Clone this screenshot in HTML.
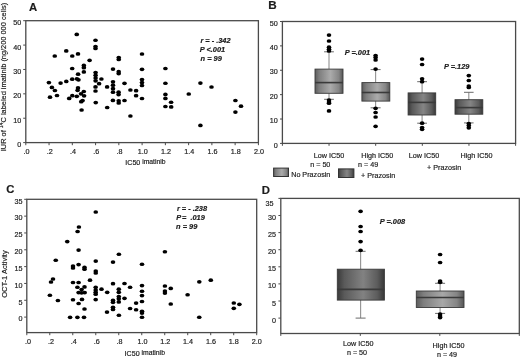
<!DOCTYPE html>
<html><head><meta charset="utf-8"><style>
html,body{margin:0;padding:0;background:#fff;width:520px;height:357px;overflow:hidden}
svg{display:block;filter:grayscale(1)}
text{font-family:"Liberation Sans",sans-serif;fill:#1c1c1c;stroke:#1c1c1c;stroke-width:0.18px}
</style></head><body>
<svg width="520" height="357" viewBox="0 0 520 357">
<defs>
<linearGradient id="gl" x1="0" y1="0" x2="1" y2="0">
<stop offset="0" stop-color="#5c5c5c"/><stop offset="0.15" stop-color="#7e7e7e"/><stop offset="0.55" stop-color="#ababab"/><stop offset="0.85" stop-color="#858585"/><stop offset="1" stop-color="#555"/>
</linearGradient>
<linearGradient id="gd" x1="0" y1="0" x2="1" y2="0">
<stop offset="0" stop-color="#3a3a3a"/><stop offset="0.15" stop-color="#595959"/><stop offset="0.55" stop-color="#858585"/><stop offset="0.85" stop-color="#5c5c5c"/><stop offset="1" stop-color="#383838"/>
</linearGradient>
<linearGradient id="gd2" x1="0" y1="0" x2="1" y2="0">
<stop offset="0" stop-color="#3a3a3a"/><stop offset="0.15" stop-color="#5a5a5a"/><stop offset="0.55" stop-color="#828282"/><stop offset="0.85" stop-color="#5c5c5c"/><stop offset="1" stop-color="#383838"/>
</linearGradient>
<linearGradient id="gl2" x1="0" y1="0" x2="1" y2="0">
<stop offset="0" stop-color="#5c5c5c"/><stop offset="0.15" stop-color="#7e7e7e"/><stop offset="0.55" stop-color="#a8a8a8"/><stop offset="0.85" stop-color="#858585"/><stop offset="1" stop-color="#555"/>
</linearGradient>
</defs>
<rect x="25.8" y="20.7" width="232.60" height="121.90" fill="none" stroke="#4a4a4a" stroke-width="1.3"/>
<line x1="23.2" y1="142.60" x2="25.8" y2="142.60" stroke="#4a4a4a" stroke-width="1"/>
<text x="21.2" y="147.10" font-size="7.2" text-anchor="end" >0</text>
<line x1="23.2" y1="118.22" x2="25.8" y2="118.22" stroke="#4a4a4a" stroke-width="1"/>
<text x="21.2" y="122.72" font-size="7.2" text-anchor="end" >10</text>
<line x1="23.2" y1="93.84" x2="25.8" y2="93.84" stroke="#4a4a4a" stroke-width="1"/>
<text x="21.2" y="98.34" font-size="7.2" text-anchor="end" >20</text>
<line x1="23.2" y1="69.46" x2="25.8" y2="69.46" stroke="#4a4a4a" stroke-width="1"/>
<text x="21.2" y="73.96" font-size="7.2" text-anchor="end" >30</text>
<line x1="23.2" y1="45.08" x2="25.8" y2="45.08" stroke="#4a4a4a" stroke-width="1"/>
<text x="21.2" y="49.58" font-size="7.2" text-anchor="end" >40</text>
<line x1="23.2" y1="20.70" x2="25.8" y2="20.70" stroke="#4a4a4a" stroke-width="1"/>
<text x="21.2" y="25.20" font-size="7.2" text-anchor="end" >50</text>
<line x1="25.80" y1="142.6" x2="25.80" y2="145.2" stroke="#4a4a4a" stroke-width="1"/>
<text x="26.50" y="153.6" font-size="7.2" text-anchor="middle" >.0</text>
<line x1="49.06" y1="142.6" x2="49.06" y2="145.2" stroke="#4a4a4a" stroke-width="1"/>
<text x="49.76" y="153.6" font-size="7.2" text-anchor="middle" >.2</text>
<line x1="72.32" y1="142.6" x2="72.32" y2="145.2" stroke="#4a4a4a" stroke-width="1"/>
<text x="73.02" y="153.6" font-size="7.2" text-anchor="middle" >.4</text>
<line x1="95.58" y1="142.6" x2="95.58" y2="145.2" stroke="#4a4a4a" stroke-width="1"/>
<text x="96.28" y="153.6" font-size="7.2" text-anchor="middle" >.6</text>
<line x1="118.84" y1="142.6" x2="118.84" y2="145.2" stroke="#4a4a4a" stroke-width="1"/>
<text x="119.54" y="153.6" font-size="7.2" text-anchor="middle" >.8</text>
<line x1="142.10" y1="142.6" x2="142.10" y2="145.2" stroke="#4a4a4a" stroke-width="1"/>
<text x="142.80" y="153.6" font-size="7.2" text-anchor="middle" >1.0</text>
<line x1="165.36" y1="142.6" x2="165.36" y2="145.2" stroke="#4a4a4a" stroke-width="1"/>
<text x="166.06" y="153.6" font-size="7.2" text-anchor="middle" >1.2</text>
<line x1="188.62" y1="142.6" x2="188.62" y2="145.2" stroke="#4a4a4a" stroke-width="1"/>
<text x="189.32" y="153.6" font-size="7.2" text-anchor="middle" >1.4</text>
<line x1="211.88" y1="142.6" x2="211.88" y2="145.2" stroke="#4a4a4a" stroke-width="1"/>
<text x="212.58" y="153.6" font-size="7.2" text-anchor="middle" >1.6</text>
<line x1="235.14" y1="142.6" x2="235.14" y2="145.2" stroke="#4a4a4a" stroke-width="1"/>
<text x="235.84" y="153.6" font-size="7.2" text-anchor="middle" >1.8</text>
<line x1="258.40" y1="142.6" x2="258.40" y2="145.2" stroke="#4a4a4a" stroke-width="1"/>
<text x="259.10" y="153.6" font-size="7.2" text-anchor="middle" >2.0</text>
<g fill="#000">
<ellipse cx="76.75" cy="34.4" rx="2.3" ry="1.85"/>
<ellipse cx="66.25" cy="50.9" rx="2.3" ry="1.85"/>
<ellipse cx="54.75" cy="56" rx="2.3" ry="1.85"/>
<ellipse cx="72.25" cy="56" rx="2.3" ry="1.85"/>
<ellipse cx="78" cy="53.9" rx="2.3" ry="1.85"/>
<ellipse cx="89.6" cy="60.3" rx="2.3" ry="1.85"/>
<ellipse cx="95.5" cy="40.25" rx="2.3" ry="1.85"/>
<ellipse cx="95.5" cy="46.5" rx="2.3" ry="1.85"/>
<ellipse cx="95.5" cy="48.5" rx="2.3" ry="1.85"/>
<ellipse cx="118.75" cy="57.5" rx="2.3" ry="1.85"/>
<ellipse cx="118.75" cy="59.5" rx="2.3" ry="1.85"/>
<ellipse cx="142" cy="54" rx="2.3" ry="1.85"/>
<ellipse cx="83.85" cy="65.4" rx="2.3" ry="1.85"/>
<ellipse cx="83.85" cy="67.7" rx="2.3" ry="1.85"/>
<ellipse cx="83.85" cy="71.9" rx="2.3" ry="1.85"/>
<ellipse cx="72.2" cy="68.5" rx="2.3" ry="1.85"/>
<ellipse cx="78.1" cy="74.2" rx="2.3" ry="1.85"/>
<ellipse cx="72.2" cy="79.2" rx="2.3" ry="1.85"/>
<ellipse cx="76.9" cy="78.8" rx="2.3" ry="1.85"/>
<ellipse cx="78.5" cy="79.8" rx="2.3" ry="1.85"/>
<ellipse cx="66.3" cy="81.4" rx="2.3" ry="1.85"/>
<ellipse cx="60.6" cy="83.1" rx="2.3" ry="1.85"/>
<ellipse cx="48.9" cy="82.6" rx="2.3" ry="1.85"/>
<ellipse cx="51.9" cy="87.4" rx="2.3" ry="1.85"/>
<ellipse cx="54.9" cy="90.5" rx="2.3" ry="1.85"/>
<ellipse cx="57" cy="95.5" rx="2.3" ry="1.85"/>
<ellipse cx="50" cy="97.2" rx="2.3" ry="1.85"/>
<ellipse cx="72.3" cy="95.7" rx="2.3" ry="1.85"/>
<ellipse cx="69.2" cy="98.4" rx="2.3" ry="1.85"/>
<ellipse cx="76.8" cy="96.3" rx="2.3" ry="1.85"/>
<ellipse cx="78" cy="87.9" rx="2.3" ry="1.85"/>
<ellipse cx="77.6" cy="90.3" rx="2.3" ry="1.85"/>
<ellipse cx="83.8" cy="91.5" rx="2.3" ry="1.85"/>
<ellipse cx="81" cy="93.8" rx="2.3" ry="1.85"/>
<ellipse cx="84.1" cy="95.8" rx="2.3" ry="1.85"/>
<ellipse cx="82.6" cy="100.6" rx="2.3" ry="1.85"/>
<ellipse cx="81.2" cy="101.7" rx="2.3" ry="1.85"/>
<ellipse cx="81.6" cy="110" rx="2.3" ry="1.85"/>
<ellipse cx="95.6" cy="72.6" rx="2.3" ry="1.85"/>
<ellipse cx="95.6" cy="75.3" rx="2.3" ry="1.85"/>
<ellipse cx="95.6" cy="78" rx="2.3" ry="1.85"/>
<ellipse cx="95.6" cy="80.8" rx="2.3" ry="1.85"/>
<ellipse cx="99.1" cy="83.7" rx="2.3" ry="1.85"/>
<ellipse cx="101.4" cy="79" rx="2.3" ry="1.85"/>
<ellipse cx="95.5" cy="86.9" rx="2.3" ry="1.85"/>
<ellipse cx="95.5" cy="91" rx="2.3" ry="1.85"/>
<ellipse cx="95.75" cy="102.6" rx="2.3" ry="1.85"/>
<ellipse cx="113" cy="69.1" rx="2.3" ry="1.85"/>
<ellipse cx="118.7" cy="71.7" rx="2.3" ry="1.85"/>
<ellipse cx="118.7" cy="73.6" rx="2.3" ry="1.85"/>
<ellipse cx="107.1" cy="86.9" rx="2.3" ry="1.85"/>
<ellipse cx="113" cy="81.8" rx="2.3" ry="1.85"/>
<ellipse cx="113" cy="85.2" rx="2.3" ry="1.85"/>
<ellipse cx="113" cy="88.7" rx="2.3" ry="1.85"/>
<ellipse cx="113" cy="92.2" rx="2.3" ry="1.85"/>
<ellipse cx="118.6" cy="92.2" rx="2.3" ry="1.85"/>
<ellipse cx="118.6" cy="94.6" rx="2.3" ry="1.85"/>
<ellipse cx="124.5" cy="83.3" rx="2.3" ry="1.85"/>
<ellipse cx="130.4" cy="90" rx="2.3" ry="1.85"/>
<ellipse cx="136.1" cy="90.7" rx="2.3" ry="1.85"/>
<ellipse cx="136.1" cy="95.7" rx="2.3" ry="1.85"/>
<ellipse cx="142" cy="69.3" rx="2.3" ry="1.85"/>
<ellipse cx="142" cy="79.5" rx="2.3" ry="1.85"/>
<ellipse cx="142" cy="82.5" rx="2.3" ry="1.85"/>
<ellipse cx="142" cy="85.5" rx="2.3" ry="1.85"/>
<ellipse cx="142" cy="98.5" rx="2.3" ry="1.85"/>
<ellipse cx="112.9" cy="100.4" rx="2.3" ry="1.85"/>
<ellipse cx="118.7" cy="100.8" rx="2.3" ry="1.85"/>
<ellipse cx="118.7" cy="103" rx="2.3" ry="1.85"/>
<ellipse cx="124.5" cy="100.5" rx="2.3" ry="1.85"/>
<ellipse cx="107.2" cy="107.5" rx="2.3" ry="1.85"/>
<ellipse cx="130.4" cy="116" rx="2.3" ry="1.85"/>
<ellipse cx="165.4" cy="68.5" rx="2.3" ry="1.85"/>
<ellipse cx="165.4" cy="83.25" rx="2.3" ry="1.85"/>
<ellipse cx="165.4" cy="94.4" rx="2.3" ry="1.85"/>
<ellipse cx="165.4" cy="98.4" rx="2.3" ry="1.85"/>
<ellipse cx="171.1" cy="102.25" rx="2.3" ry="1.85"/>
<ellipse cx="165.4" cy="106.5" rx="2.3" ry="1.85"/>
<ellipse cx="171.2" cy="106.9" rx="2.3" ry="1.85"/>
<ellipse cx="188.75" cy="94" rx="2.3" ry="1.85"/>
<ellipse cx="200.4" cy="83.1" rx="2.3" ry="1.85"/>
<ellipse cx="211.5" cy="87" rx="2.3" ry="1.85"/>
<ellipse cx="235.4" cy="100.5" rx="2.3" ry="1.85"/>
<ellipse cx="241" cy="106.2" rx="2.3" ry="1.85"/>
<ellipse cx="235.4" cy="112.1" rx="2.3" ry="1.85"/>
<ellipse cx="200.4" cy="125.4" rx="2.3" ry="1.85"/>
</g>
<g font-weight="bold" font-style="italic">
<text x="200.4" y="42.6" font-size="7.4" text-anchor="start" >r = - .342</text>
<text x="199.8" y="51.6" font-size="7.4" text-anchor="start" >P &lt;.001</text>
<text x="200.6" y="61.3" font-size="7.4" text-anchor="start" >n = 99</text>
</g>
<text x="125.3" y="164.7" font-size="7.1">IC50<tspan font-size="6.8" dx="1.9" dy="-1">imatinib</tspan></text>
<text transform="translate(6.1,151.2) rotate(-90)" font-size="7.4">IUR of <tspan font-size="5.2" dy="-2.7">14</tspan><tspan dy="2.7">C labeled imatinib (ng/200 000 cells)</tspan></text>
<text x="28.9" y="10.7" font-size="11.3" text-anchor="start" font-weight="bold">A</text>
<rect x="26.8" y="199.3" width="229.90" height="133.30" fill="none" stroke="#4a4a4a" stroke-width="1.3"/>
<line x1="24.2" y1="317.10" x2="26.8" y2="317.10" stroke="#4a4a4a" stroke-width="1"/>
<text x="22.6" y="321.40" font-size="7.2" text-anchor="end" >0</text>
<line x1="24.2" y1="300.27" x2="26.8" y2="300.27" stroke="#4a4a4a" stroke-width="1"/>
<text x="22.6" y="304.57" font-size="7.2" text-anchor="end" >5</text>
<line x1="24.2" y1="283.44" x2="26.8" y2="283.44" stroke="#4a4a4a" stroke-width="1"/>
<text x="22.6" y="287.74" font-size="7.2" text-anchor="end" >10</text>
<line x1="24.2" y1="266.61" x2="26.8" y2="266.61" stroke="#4a4a4a" stroke-width="1"/>
<text x="22.6" y="270.91" font-size="7.2" text-anchor="end" >15</text>
<line x1="24.2" y1="249.79" x2="26.8" y2="249.79" stroke="#4a4a4a" stroke-width="1"/>
<text x="22.6" y="254.09" font-size="7.2" text-anchor="end" >20</text>
<line x1="24.2" y1="232.96" x2="26.8" y2="232.96" stroke="#4a4a4a" stroke-width="1"/>
<text x="22.6" y="237.26" font-size="7.2" text-anchor="end" >25</text>
<line x1="24.2" y1="216.13" x2="26.8" y2="216.13" stroke="#4a4a4a" stroke-width="1"/>
<text x="22.6" y="220.43" font-size="7.2" text-anchor="end" >30</text>
<line x1="24.2" y1="199.30" x2="26.8" y2="199.30" stroke="#4a4a4a" stroke-width="1"/>
<text x="22.6" y="203.60" font-size="7.2" text-anchor="end" >35</text>
<line x1="26.80" y1="332.6" x2="26.80" y2="335.20000000000005" stroke="#4a4a4a" stroke-width="1"/>
<text x="28.10" y="344.1" font-size="7.2" text-anchor="middle" >.0</text>
<line x1="49.79" y1="332.6" x2="49.79" y2="335.20000000000005" stroke="#4a4a4a" stroke-width="1"/>
<text x="50.96" y="344.1" font-size="7.2" text-anchor="middle" >.2</text>
<line x1="72.78" y1="332.6" x2="72.78" y2="335.20000000000005" stroke="#4a4a4a" stroke-width="1"/>
<text x="73.82" y="344.1" font-size="7.2" text-anchor="middle" >.4</text>
<line x1="95.77" y1="332.6" x2="95.77" y2="335.20000000000005" stroke="#4a4a4a" stroke-width="1"/>
<text x="96.68" y="344.1" font-size="7.2" text-anchor="middle" >.6</text>
<line x1="118.76" y1="332.6" x2="118.76" y2="335.20000000000005" stroke="#4a4a4a" stroke-width="1"/>
<text x="119.54" y="344.1" font-size="7.2" text-anchor="middle" >.8</text>
<line x1="141.75" y1="332.6" x2="141.75" y2="335.20000000000005" stroke="#4a4a4a" stroke-width="1"/>
<text x="142.40" y="344.1" font-size="7.2" text-anchor="middle" >1.0</text>
<line x1="164.74" y1="332.6" x2="164.74" y2="335.20000000000005" stroke="#4a4a4a" stroke-width="1"/>
<text x="165.26" y="344.1" font-size="7.2" text-anchor="middle" >1.2</text>
<line x1="187.73" y1="332.6" x2="187.73" y2="335.20000000000005" stroke="#4a4a4a" stroke-width="1"/>
<text x="188.12" y="344.1" font-size="7.2" text-anchor="middle" >1.4</text>
<line x1="210.72" y1="332.6" x2="210.72" y2="335.20000000000005" stroke="#4a4a4a" stroke-width="1"/>
<text x="210.98" y="344.1" font-size="7.2" text-anchor="middle" >1.6</text>
<line x1="233.71" y1="332.6" x2="233.71" y2="335.20000000000005" stroke="#4a4a4a" stroke-width="1"/>
<text x="233.84" y="344.1" font-size="7.2" text-anchor="middle" >1.8</text>
<line x1="256.70" y1="332.6" x2="256.70" y2="335.20000000000005" stroke="#4a4a4a" stroke-width="1"/>
<text x="256.70" y="344.1" font-size="7.2" text-anchor="middle" >2.0</text>
<g fill="#000">
<ellipse cx="78.9" cy="227" rx="2.3" ry="1.85"/>
<ellipse cx="77.6" cy="231.5" rx="2.3" ry="1.85"/>
<ellipse cx="67.25" cy="241.6" rx="2.3" ry="1.85"/>
<ellipse cx="95.75" cy="212" rx="2.3" ry="1.85"/>
<ellipse cx="78.6" cy="250.1" rx="2.3" ry="1.85"/>
<ellipse cx="55.75" cy="260.25" rx="2.3" ry="1.85"/>
<ellipse cx="73" cy="266.1" rx="2.3" ry="1.85"/>
<ellipse cx="73" cy="268" rx="2.3" ry="1.85"/>
<ellipse cx="78.6" cy="264.6" rx="2.3" ry="1.85"/>
<ellipse cx="84.5" cy="267.4" rx="2.3" ry="1.85"/>
<ellipse cx="84.5" cy="269.2" rx="2.3" ry="1.85"/>
<ellipse cx="53" cy="279" rx="2.3" ry="1.85"/>
<ellipse cx="51" cy="282" rx="2.3" ry="1.85"/>
<ellipse cx="118.9" cy="254.25" rx="2.3" ry="1.85"/>
<ellipse cx="95.75" cy="261.1" rx="2.3" ry="1.85"/>
<ellipse cx="113" cy="262.1" rx="2.3" ry="1.85"/>
<ellipse cx="142" cy="264.25" rx="2.3" ry="1.85"/>
<ellipse cx="95.75" cy="271.1" rx="2.3" ry="1.85"/>
<ellipse cx="95.75" cy="273" rx="2.3" ry="1.85"/>
<ellipse cx="90" cy="280.2" rx="2.3" ry="1.85"/>
<ellipse cx="164.9" cy="251.75" rx="2.3" ry="1.85"/>
<ellipse cx="199.3" cy="281.8" rx="2.3" ry="1.85"/>
<ellipse cx="210.8" cy="280.2" rx="2.3" ry="1.85"/>
<ellipse cx="73" cy="282.5" rx="2.3" ry="1.85"/>
<ellipse cx="78.6" cy="282.5" rx="2.3" ry="1.85"/>
<ellipse cx="77.4" cy="287.25" rx="2.3" ry="1.85"/>
<ellipse cx="84.5" cy="286.9" rx="2.3" ry="1.85"/>
<ellipse cx="81.6" cy="289.6" rx="2.3" ry="1.85"/>
<ellipse cx="78.6" cy="292.6" rx="2.3" ry="1.85"/>
<ellipse cx="81.6" cy="292.8" rx="2.3" ry="1.85"/>
<ellipse cx="84.7" cy="292.6" rx="2.3" ry="1.85"/>
<ellipse cx="49.9" cy="295.25" rx="2.3" ry="1.85"/>
<ellipse cx="57.9" cy="300.5" rx="2.3" ry="1.85"/>
<ellipse cx="73" cy="299.75" rx="2.3" ry="1.85"/>
<ellipse cx="82" cy="299.4" rx="2.3" ry="1.85"/>
<ellipse cx="78.6" cy="303.5" rx="2.3" ry="1.85"/>
<ellipse cx="84.5" cy="309" rx="2.3" ry="1.85"/>
<ellipse cx="70.1" cy="317.3" rx="2.3" ry="1.85"/>
<ellipse cx="77.4" cy="317.3" rx="2.3" ry="1.85"/>
<ellipse cx="84" cy="317.3" rx="2.3" ry="1.85"/>
<ellipse cx="113" cy="283.7" rx="2.3" ry="1.85"/>
<ellipse cx="124.5" cy="283.5" rx="2.3" ry="1.85"/>
<ellipse cx="130.1" cy="287.25" rx="2.3" ry="1.85"/>
<ellipse cx="142" cy="285.6" rx="2.3" ry="1.85"/>
<ellipse cx="95.7" cy="287.3" rx="2.3" ry="1.85"/>
<ellipse cx="95.7" cy="290" rx="2.3" ry="1.85"/>
<ellipse cx="95.7" cy="292.3" rx="2.3" ry="1.85"/>
<ellipse cx="95.7" cy="294.2" rx="2.3" ry="1.85"/>
<ellipse cx="95.7" cy="299.6" rx="2.3" ry="1.85"/>
<ellipse cx="101.5" cy="289.2" rx="2.3" ry="1.85"/>
<ellipse cx="107.2" cy="292.3" rx="2.3" ry="1.85"/>
<ellipse cx="118.8" cy="289.2" rx="2.3" ry="1.85"/>
<ellipse cx="118.8" cy="292.3" rx="2.3" ry="1.85"/>
<ellipse cx="118.8" cy="296.5" rx="2.3" ry="1.85"/>
<ellipse cx="118.8" cy="298.8" rx="2.3" ry="1.85"/>
<ellipse cx="118.8" cy="301.9" rx="2.3" ry="1.85"/>
<ellipse cx="124.5" cy="298.3" rx="2.3" ry="1.85"/>
<ellipse cx="113" cy="300.4" rx="2.3" ry="1.85"/>
<ellipse cx="113" cy="302.3" rx="2.3" ry="1.85"/>
<ellipse cx="113" cy="307.25" rx="2.3" ry="1.85"/>
<ellipse cx="113" cy="309.4" rx="2.3" ry="1.85"/>
<ellipse cx="107" cy="312.1" rx="2.3" ry="1.85"/>
<ellipse cx="118.9" cy="315.25" rx="2.3" ry="1.85"/>
<ellipse cx="130.1" cy="308.5" rx="2.3" ry="1.85"/>
<ellipse cx="136.1" cy="303.1" rx="2.3" ry="1.85"/>
<ellipse cx="136.1" cy="309.75" rx="2.3" ry="1.85"/>
<ellipse cx="142" cy="291.25" rx="2.3" ry="1.85"/>
<ellipse cx="142" cy="295.6" rx="2.3" ry="1.85"/>
<ellipse cx="142" cy="301.5" rx="2.3" ry="1.85"/>
<ellipse cx="142" cy="311.25" rx="2.3" ry="1.85"/>
<ellipse cx="142" cy="313.1" rx="2.3" ry="1.85"/>
<ellipse cx="142" cy="317.25" rx="2.3" ry="1.85"/>
<ellipse cx="164.9" cy="286" rx="2.3" ry="1.85"/>
<ellipse cx="170.75" cy="288.4" rx="2.3" ry="1.85"/>
<ellipse cx="164.9" cy="291" rx="2.3" ry="1.85"/>
<ellipse cx="164.9" cy="293.1" rx="2.3" ry="1.85"/>
<ellipse cx="187.6" cy="294.75" rx="2.3" ry="1.85"/>
<ellipse cx="170.75" cy="304" rx="2.3" ry="1.85"/>
<ellipse cx="199.25" cy="317.25" rx="2.3" ry="1.85"/>
<ellipse cx="233.8" cy="303" rx="2.3" ry="1.85"/>
<ellipse cx="239.4" cy="304.3" rx="2.3" ry="1.85"/>
<ellipse cx="233.8" cy="308.3" rx="2.3" ry="1.85"/>
</g>
<g font-weight="bold" font-style="italic">
<text x="176.9" y="211.2" font-size="7.4" text-anchor="start" >r = - .238</text>
<text x="176.3" y="219.7" font-size="7.4" text-anchor="start" >P <tspan dx="-0.9">=</tspan><tspan dx="1.9"> .019</tspan></text>
<text x="176.1" y="228.5" font-size="7.4" text-anchor="start" >n = 99</text>
</g>
<text x="124.6" y="355.5" font-size="7.1">IC50<tspan font-size="6.8" dx="1.9" dy="-1">imatinib</tspan></text>
<text transform="translate(7.2,297.8) rotate(-90)" font-size="7.5">OCT-1 Activity</text>
<text x="6.2" y="192.8" font-size="11.3" text-anchor="start" font-weight="bold">C</text>
<rect x="282.4" y="21.5" width="233.20" height="121.90" fill="none" stroke="#4a4a4a" stroke-width="1.3"/>
<line x1="280.0" y1="143.40" x2="282.4" y2="143.40" stroke="#4a4a4a" stroke-width="1"/>
<text x="277.7" y="147.50" font-size="7.2" text-anchor="end" >0</text>
<line x1="280.0" y1="119.02" x2="282.4" y2="119.02" stroke="#4a4a4a" stroke-width="1"/>
<text x="277.7" y="123.12" font-size="7.2" text-anchor="end" >10</text>
<line x1="280.0" y1="94.64" x2="282.4" y2="94.64" stroke="#4a4a4a" stroke-width="1"/>
<text x="277.7" y="98.74" font-size="7.2" text-anchor="end" >20</text>
<line x1="280.0" y1="70.26" x2="282.4" y2="70.26" stroke="#4a4a4a" stroke-width="1"/>
<text x="277.7" y="74.36" font-size="7.2" text-anchor="end" >30</text>
<line x1="280.0" y1="45.88" x2="282.4" y2="45.88" stroke="#4a4a4a" stroke-width="1"/>
<text x="277.7" y="49.98" font-size="7.2" text-anchor="end" >40</text>
<line x1="280.0" y1="21.50" x2="282.4" y2="21.50" stroke="#4a4a4a" stroke-width="1"/>
<text x="277.7" y="25.60" font-size="7.2" text-anchor="end" >50</text>
<line x1="282.40" y1="143.4" x2="282.40" y2="145.8" stroke="#4a4a4a" stroke-width="1"/>
<line x1="329.04" y1="143.4" x2="329.04" y2="145.8" stroke="#4a4a4a" stroke-width="1"/>
<line x1="375.68" y1="143.4" x2="375.68" y2="145.8" stroke="#4a4a4a" stroke-width="1"/>
<line x1="422.32" y1="143.4" x2="422.32" y2="145.8" stroke="#4a4a4a" stroke-width="1"/>
<line x1="468.96" y1="143.4" x2="468.96" y2="145.8" stroke="#4a4a4a" stroke-width="1"/>
<line x1="515.60" y1="143.4" x2="515.60" y2="145.8" stroke="#4a4a4a" stroke-width="1"/>
<line x1="329" y1="51.8" x2="329" y2="69.1" stroke="#959595" stroke-width="1.15"/>
<line x1="329" y1="93.3" x2="329" y2="99.3" stroke="#959595" stroke-width="1.15"/>
<line x1="324.1" y1="51.8" x2="333.9" y2="51.8" stroke="#6a6a6a" stroke-width="1"/>
<line x1="324.1" y1="99.3" x2="333.9" y2="99.3" stroke="#6a6a6a" stroke-width="1"/>
<rect x="315" y="69.1" width="28.00" height="24.20" fill="url(#gl)" stroke="#3a3a3a" stroke-width="0.9"/>
<line x1="315" y1="82.6" x2="343" y2="82.6" stroke="#3a3a3a" stroke-width="1.6"/>
<ellipse cx="329" cy="35.1" rx="2.3" ry="1.85"/>
<ellipse cx="329" cy="41" rx="2.3" ry="1.85"/>
<ellipse cx="329" cy="47.2" rx="2.3" ry="1.85"/>
<ellipse cx="329" cy="49.3" rx="2.3" ry="1.85"/>
<ellipse cx="329" cy="51" rx="2.3" ry="1.85"/>
<ellipse cx="329" cy="100" rx="2.3" ry="1.85"/>
<ellipse cx="329" cy="102" rx="2.3" ry="1.85"/>
<ellipse cx="329" cy="103.2" rx="2.3" ry="1.85"/>
<ellipse cx="329" cy="110.9" rx="2.3" ry="1.85"/>
<line x1="375.6" y1="69.6" x2="375.6" y2="82.6" stroke="#959595" stroke-width="1.15"/>
<line x1="375.6" y1="101.1" x2="375.6" y2="107.8" stroke="#959595" stroke-width="1.15"/>
<line x1="370.6" y1="69.6" x2="380.6" y2="69.6" stroke="#6a6a6a" stroke-width="1"/>
<line x1="370.6" y1="107.8" x2="380.6" y2="107.8" stroke="#6a6a6a" stroke-width="1"/>
<rect x="361.9" y="82.6" width="27.90" height="18.50" fill="url(#gl)" stroke="#3a3a3a" stroke-width="0.9"/>
<line x1="361.9" y1="92.5" x2="389.8" y2="92.5" stroke="#3a3a3a" stroke-width="1.6"/>
<ellipse cx="375.6" cy="55.5" rx="2.3" ry="1.85"/>
<ellipse cx="375.6" cy="57.5" rx="2.3" ry="1.85"/>
<ellipse cx="375.6" cy="60" rx="2.3" ry="1.85"/>
<ellipse cx="375.6" cy="69.1" rx="2.3" ry="1.85"/>
<ellipse cx="375.6" cy="108.3" rx="2.3" ry="1.85"/>
<ellipse cx="375.6" cy="112.5" rx="2.3" ry="1.85"/>
<ellipse cx="375.6" cy="117" rx="2.3" ry="1.85"/>
<ellipse cx="375.6" cy="126.3" rx="2.3" ry="1.85"/>
<line x1="422.1" y1="81.7" x2="422.1" y2="92.9" stroke="#959595" stroke-width="1.15"/>
<line x1="422.1" y1="115.0" x2="422.1" y2="123.2" stroke="#959595" stroke-width="1.15"/>
<line x1="417.20000000000005" y1="81.7" x2="427.0" y2="81.7" stroke="#6a6a6a" stroke-width="1"/>
<line x1="417.20000000000005" y1="123.2" x2="427.0" y2="123.2" stroke="#6a6a6a" stroke-width="1"/>
<rect x="408.1" y="92.9" width="27.60" height="22.10" fill="url(#gd)" stroke="#3a3a3a" stroke-width="0.9"/>
<line x1="408.1" y1="102.4" x2="435.7" y2="102.4" stroke="#3a3a3a" stroke-width="1.6"/>
<ellipse cx="422.1" cy="59.1" rx="2.3" ry="1.85"/>
<ellipse cx="422.1" cy="64.5" rx="2.3" ry="1.85"/>
<ellipse cx="422.1" cy="78.8" rx="2.3" ry="1.85"/>
<ellipse cx="422.1" cy="81.7" rx="2.3" ry="1.85"/>
<ellipse cx="422.1" cy="123.2" rx="2.3" ry="1.85"/>
<ellipse cx="422.1" cy="127.5" rx="2.3" ry="1.85"/>
<ellipse cx="422.1" cy="129.3" rx="2.3" ry="1.85"/>
<line x1="468.8" y1="92.3" x2="468.8" y2="99.7" stroke="#959595" stroke-width="1.15"/>
<line x1="468.8" y1="114.2" x2="468.8" y2="122.9" stroke="#959595" stroke-width="1.15"/>
<line x1="464.0" y1="92.3" x2="473.6" y2="92.3" stroke="#6a6a6a" stroke-width="1"/>
<line x1="464.0" y1="122.9" x2="473.6" y2="122.9" stroke="#6a6a6a" stroke-width="1"/>
<rect x="455" y="99.7" width="27.80" height="14.50" fill="url(#gd)" stroke="#3a3a3a" stroke-width="0.9"/>
<line x1="455" y1="107.6" x2="482.8" y2="107.6" stroke="#3a3a3a" stroke-width="1.6"/>
<ellipse cx="468.8" cy="75.6" rx="2.3" ry="1.85"/>
<ellipse cx="468.8" cy="80.5" rx="2.3" ry="1.85"/>
<ellipse cx="468.8" cy="86" rx="2.3" ry="1.85"/>
<ellipse cx="468.8" cy="87.5" rx="2.3" ry="1.85"/>
<ellipse cx="468.8" cy="123.5" rx="2.3" ry="1.85"/>
<ellipse cx="468.8" cy="125.5" rx="2.3" ry="1.85"/>
<ellipse cx="468.8" cy="127.8" rx="2.3" ry="1.85"/>
<g font-weight="bold" font-style="italic">
<text x="344.8" y="54.8" font-size="7.4" text-anchor="start" >P =.001</text>
<text x="444.0" y="68.8" font-size="7.4" text-anchor="start" >P =.129</text>
</g>
<text x="313.8" y="158.4" font-size="7.2" text-anchor="start" >Low IC50</text>
<text x="310.2" y="167.2" font-size="7.2" text-anchor="start" >n = 50</text>
<text x="361.3" y="158.4" font-size="7.2" text-anchor="start" >High IC50</text>
<text x="358.1" y="167.2" font-size="7.2" text-anchor="start" >n = 49</text>
<text x="408.8" y="158.4" font-size="7.2" text-anchor="start" >Low IC50</text>
<text x="460.5" y="158.4" font-size="7.2" text-anchor="start" >High IC50</text>
<text x="427.0" y="169.6" font-size="7.2" text-anchor="start" >+ Prazosin</text>
<rect x="273.6" y="168.1" width="14.9" height="8.4" fill="url(#gl)" stroke="#333" stroke-width="1"/>
<text x="291.2" y="177.3" font-size="7.2" text-anchor="start" >No Prazosin</text>
<rect x="338.5" y="168.9" width="15.4" height="8.6" fill="url(#gd)" stroke="#333" stroke-width="1"/>
<text x="361.1" y="177.5" font-size="7.2" text-anchor="start" >+ Prazosin</text>
<text x="268.2" y="8.5" font-size="11.7" text-anchor="start" font-weight="bold">B</text>
<rect x="280.8" y="198.4" width="238.50" height="135.10" fill="none" stroke="#4a4a4a" stroke-width="1.3"/>
<line x1="278.40000000000003" y1="318.10" x2="280.8" y2="318.10" stroke="#4a4a4a" stroke-width="1"/>
<text x="276.1" y="322.60" font-size="7.2" text-anchor="end" >0</text>
<line x1="278.40000000000003" y1="301.00" x2="280.8" y2="301.00" stroke="#4a4a4a" stroke-width="1"/>
<text x="276.1" y="305.50" font-size="7.2" text-anchor="end" >5</text>
<line x1="278.40000000000003" y1="283.90" x2="280.8" y2="283.90" stroke="#4a4a4a" stroke-width="1"/>
<text x="276.1" y="288.40" font-size="7.2" text-anchor="end" >10</text>
<line x1="278.40000000000003" y1="266.80" x2="280.8" y2="266.80" stroke="#4a4a4a" stroke-width="1"/>
<text x="276.1" y="271.30" font-size="7.2" text-anchor="end" >15</text>
<line x1="278.40000000000003" y1="249.70" x2="280.8" y2="249.70" stroke="#4a4a4a" stroke-width="1"/>
<text x="276.1" y="254.20" font-size="7.2" text-anchor="end" >20</text>
<line x1="278.40000000000003" y1="232.60" x2="280.8" y2="232.60" stroke="#4a4a4a" stroke-width="1"/>
<text x="276.1" y="237.10" font-size="7.2" text-anchor="end" >25</text>
<line x1="278.40000000000003" y1="215.50" x2="280.8" y2="215.50" stroke="#4a4a4a" stroke-width="1"/>
<text x="276.1" y="220.00" font-size="7.2" text-anchor="end" >30</text>
<line x1="278.40000000000003" y1="198.40" x2="280.8" y2="198.40" stroke="#4a4a4a" stroke-width="1"/>
<text x="273.5" y="205.8" font-size="7.2" text-anchor="end" >35</text>
<line x1="280.80" y1="333.5" x2="280.80" y2="335.9" stroke="#4a4a4a" stroke-width="1"/>
<line x1="360.30" y1="333.5" x2="360.30" y2="335.9" stroke="#4a4a4a" stroke-width="1"/>
<line x1="439.80" y1="333.5" x2="439.80" y2="335.9" stroke="#4a4a4a" stroke-width="1"/>
<line x1="519.30" y1="333.5" x2="519.30" y2="335.9" stroke="#4a4a4a" stroke-width="1"/>
<line x1="360.6" y1="251.3" x2="360.6" y2="269.2" stroke="#959595" stroke-width="1.15"/>
<line x1="360.6" y1="300.1" x2="360.6" y2="318.1" stroke="#959595" stroke-width="1.15"/>
<line x1="355.6" y1="251.3" x2="365.6" y2="251.3" stroke="#6a6a6a" stroke-width="1"/>
<line x1="355.6" y1="318.1" x2="365.6" y2="318.1" stroke="#6a6a6a" stroke-width="1"/>
<rect x="337.3" y="269.2" width="47.10" height="30.90" fill="url(#gd2)" stroke="#3a3a3a" stroke-width="0.9"/>
<line x1="337.3" y1="289.4" x2="384.4" y2="289.4" stroke="#3a3a3a" stroke-width="1.6"/>
<ellipse cx="360.6" cy="211.3" rx="2.3" ry="1.85"/>
<ellipse cx="360.6" cy="226.5" rx="2.3" ry="1.85"/>
<ellipse cx="360.6" cy="231.5" rx="2.3" ry="1.85"/>
<ellipse cx="360.6" cy="241.6" rx="2.3" ry="1.85"/>
<ellipse cx="360.6" cy="250.3" rx="2.3" ry="1.85"/>
<line x1="440.1" y1="283.3" x2="440.1" y2="291" stroke="#959595" stroke-width="1.15"/>
<line x1="440.1" y1="307.5" x2="440.1" y2="313.4" stroke="#959595" stroke-width="1.15"/>
<line x1="435.1" y1="283.3" x2="445.1" y2="283.3" stroke="#6a6a6a" stroke-width="1"/>
<line x1="435.1" y1="313.4" x2="445.1" y2="313.4" stroke="#6a6a6a" stroke-width="1"/>
<rect x="416.3" y="291" width="47.70" height="16.50" fill="url(#gl2)" stroke="#3a3a3a" stroke-width="0.9"/>
<line x1="416.3" y1="297.5" x2="464" y2="297.5" stroke="#3a3a3a" stroke-width="1.6"/>
<ellipse cx="440.1" cy="254.5" rx="2.3" ry="1.85"/>
<ellipse cx="440.1" cy="262.5" rx="2.3" ry="1.85"/>
<ellipse cx="440.1" cy="281" rx="2.3" ry="1.85"/>
<ellipse cx="440.1" cy="282.3" rx="2.3" ry="1.85"/>
<ellipse cx="440.1" cy="314" rx="2.3" ry="1.85"/>
<ellipse cx="440.1" cy="316" rx="2.3" ry="1.85"/>
<ellipse cx="440.1" cy="317.6" rx="2.3" ry="1.85"/>
<g font-weight="bold" font-style="italic">
<text x="379.8" y="224.0" font-size="7.4" text-anchor="start" >P =.008</text>
</g>
<text x="343.1" y="346.4" font-size="7.2" text-anchor="start" >Low IC50</text>
<text x="346.9" y="355" font-size="7.2" text-anchor="start" >n = 50</text>
<text x="432.6" y="347.8" font-size="7.2" text-anchor="start" >High IC50</text>
<text x="436.9" y="356.8" font-size="7.2" text-anchor="start" >n = 49</text>
<text x="261.8" y="194.4" font-size="11.3" text-anchor="start" font-weight="bold">D</text>
</svg>
</body></html>
